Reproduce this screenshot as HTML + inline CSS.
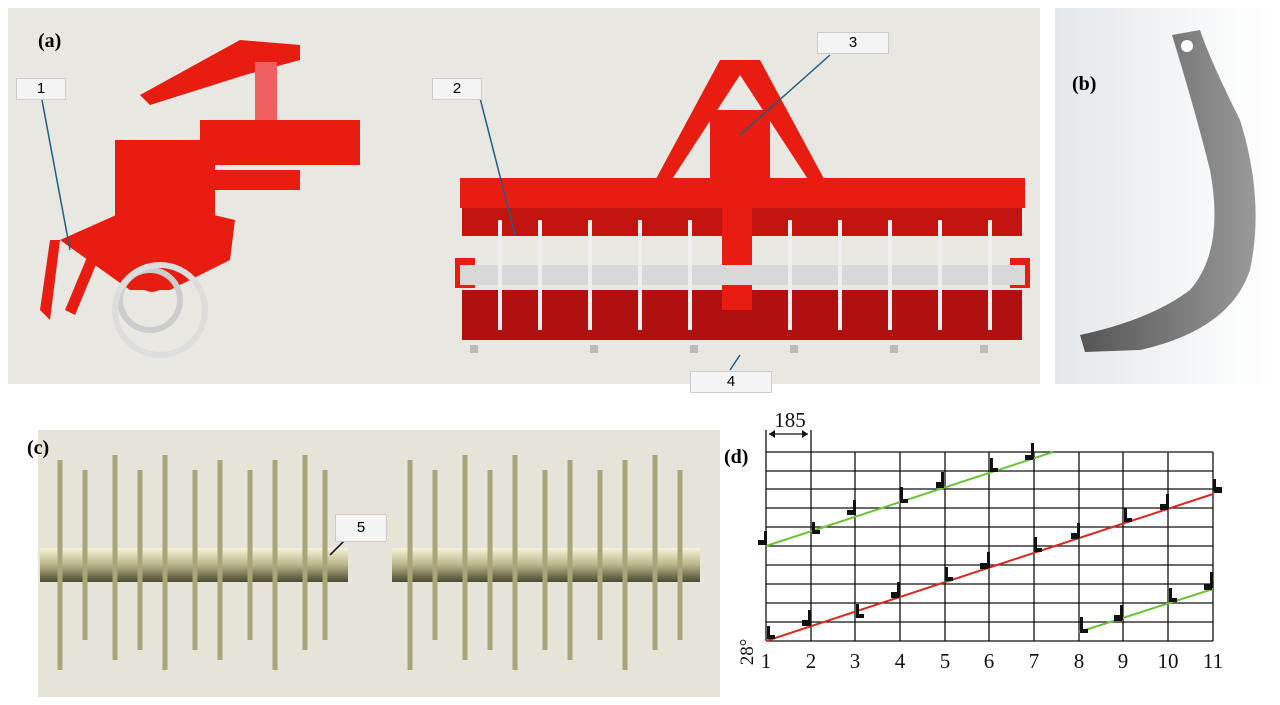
<!DOCTYPE html>
<html><head><style>
body{margin:0;width:1280px;height:705px;background:#fff;position:relative;overflow:hidden;font-family:"Liberation Serif",serif}
.lab{position:absolute;font-weight:bold;font-size:20px}
.box{position:absolute;background:#f4f4f4;border:1px solid #ccc;font:15px "Liberation Sans",sans-serif;text-align:center;line-height:20px;width:48px;height:20px}
</style></head><body>
<svg width="1280" height="705" style="position:absolute;left:0;top:0">
<rect x="8" y="8" width="1032" height="376" fill="#e9e7e1"/>
<defs><linearGradient id="bg" x1="0" x2="1"><stop offset="0" stop-color="#e4e7ea"/><stop offset="1" stop-color="#fff"/></linearGradient>
<linearGradient id="sh" x1="0" y1="0" x2="0" y2="1"><stop offset="0" stop-color="#f6f4d8"/><stop offset="0.5" stop-color="#b8b48a"/><stop offset="1" stop-color="#4a4a30"/></linearGradient>
<linearGradient id="bl" x1="0" x2="1"><stop offset="0" stop-color="#555"/><stop offset="1" stop-color="#999"/></linearGradient></defs>
<rect x="1055" y="8" width="220" height="376" fill="url(#bg)"/>
<path d="M1172,35 L1200,30 Q1210,60 1240,120 Q1265,200 1250,270 Q1230,330 1140,350 L1085,352 L1080,335 Q1150,320 1190,290 Q1225,250 1210,170 Q1195,110 1172,35Z" fill="url(#bl)"/>
<circle cx="1187" cy="46" r="6" fill="#fff"/>
<g fill="#e81c10">
<polygon points="60,240 150,200 235,220 230,260 170,290 130,290"/>
<rect x="115" y="140" width="100" height="110"/>
<polygon points="140,95 240,40 300,45 300,60 245,75 150,105"/>
<rect x="255" y="62" width="22" height="100" fill="#f06060"/>
<rect x="200" y="120" width="160" height="45"/>
<rect x="180" y="170" width="120" height="20"/>
<polygon points="40,310 50,240 60,240 50,320"/>
<polygon points="65,310 90,250 100,255 75,315"/>
<circle cx="152" cy="278" r="14"/>
</g>
<g fill="none" stroke="#ccc" stroke-width="6"><circle cx="150" cy="300" r="30"/><circle cx="160" cy="310" r="45" stroke="#ddd"/></g>
<g fill="#e81c10">
<rect x="460" y="178" width="565" height="30"/>
<rect x="462" y="208" width="560" height="28" fill="#c41410"/>
<rect x="462" y="290" width="560" height="50" fill="#b01010"/>
<rect x="710" y="110" width="60" height="80"/>
<polygon points="650,190 720,60 760,60 830,190 815,190 740,75 665,190"/>
<rect x="722" y="190" width="30" height="120"/>
<rect x="455" y="258" width="20" height="30"/><rect x="1010" y="258" width="20" height="30"/>
</g>
<rect x="460" y="265" width="565" height="20" fill="#d8d8d8"/>
<g fill="#bbb"><rect x="470" y="345" width="8" height="8"/><rect x="590" y="345" width="8" height="8"/><rect x="690" y="345" width="8" height="8"/><rect x="790" y="345" width="8" height="8"/><rect x="890" y="345" width="8" height="8"/><rect x="980" y="345" width="8" height="8"/></g>
<g stroke="#eee" stroke-width="4">
<line x1="500" y1="220" x2="500" y2="330"/><line x1="540" y1="220" x2="540" y2="330"/><line x1="590" y1="220" x2="590" y2="330"/><line x1="640" y1="220" x2="640" y2="330"/><line x1="690" y1="220" x2="690" y2="330"/><line x1="790" y1="220" x2="790" y2="330"/><line x1="840" y1="220" x2="840" y2="330"/><line x1="890" y1="220" x2="890" y2="330"/><line x1="940" y1="220" x2="940" y2="330"/><line x1="990" y1="220" x2="990" y2="330"/></g>
<g stroke="#1f5f80" stroke-width="1.5" fill="none">
<line x1="42" y1="100" x2="70" y2="250"/><line x1="480" y1="98" x2="515" y2="235"/><line x1="830" y1="55" x2="740" y2="135"/><line x1="740" y1="355" x2="730" y2="370"/></g>
<rect x="38" y="430" width="682" height="267" fill="#e6e4d8"/>
<rect x="40" y="548" width="308" height="34" fill="url(#sh)"/>
<rect x="392" y="548" width="308" height="34" fill="url(#sh)"/>
<g stroke="#a9a57a" stroke-width="5">
<line x1="60" y1="460" x2="60" y2="670"/><line x1="85" y1="470" x2="85" y2="640"/><line x1="115" y1="455" x2="115" y2="660"/><line x1="140" y1="470" x2="140" y2="650"/><line x1="165" y1="455" x2="165" y2="670"/><line x1="195" y1="470" x2="195" y2="650"/><line x1="220" y1="460" x2="220" y2="660"/><line x1="250" y1="470" x2="250" y2="640"/><line x1="275" y1="460" x2="275" y2="670"/><line x1="305" y1="455" x2="305" y2="650"/><line x1="325" y1="470" x2="325" y2="640"/>
<line x1="410" y1="460" x2="410" y2="670"/><line x1="435" y1="470" x2="435" y2="640"/><line x1="465" y1="455" x2="465" y2="660"/><line x1="490" y1="470" x2="490" y2="650"/><line x1="515" y1="455" x2="515" y2="670"/><line x1="545" y1="470" x2="545" y2="650"/><line x1="570" y1="460" x2="570" y2="660"/><line x1="600" y1="470" x2="600" y2="640"/><line x1="625" y1="460" x2="625" y2="670"/><line x1="655" y1="455" x2="655" y2="650"/><line x1="680" y1="470" x2="680" y2="640"/></g>
<line x1="355" y1="530" x2="330" y2="555" stroke="#000" stroke-width="1.5"/>
<g stroke="#111" stroke-width="1.3">
<line x1="766" y1="452" x2="1213" y2="452"/><line x1="766" y1="471" x2="1213" y2="471"/><line x1="766" y1="489" x2="1213" y2="489"/><line x1="766" y1="508" x2="1213" y2="508"/><line x1="766" y1="527" x2="1213" y2="527"/><line x1="766" y1="546" x2="1213" y2="546"/><line x1="766" y1="565" x2="1213" y2="565"/><line x1="766" y1="584" x2="1213" y2="584"/><line x1="766" y1="603" x2="1213" y2="603"/><line x1="766" y1="622" x2="1213" y2="622"/><line x1="766" y1="641" x2="1213" y2="641"/>
<line x1="766" y1="430" x2="766" y2="641"/><line x1="811" y1="430" x2="811" y2="641"/><line x1="855" y1="452" x2="855" y2="641"/><line x1="900" y1="452" x2="900" y2="641"/><line x1="945" y1="452" x2="945" y2="641"/><line x1="989" y1="452" x2="989" y2="641"/><line x1="1034" y1="452" x2="1034" y2="641"/><line x1="1079" y1="452" x2="1079" y2="641"/><line x1="1123" y1="452" x2="1123" y2="641"/><line x1="1168" y1="452" x2="1168" y2="641"/><line x1="1213" y1="452" x2="1213" y2="641"/>
<line x1="769" y1="434" x2="808" y2="434"/></g>
<path d="M769,434 l6,-4 v8z M808,434 l-6,-4 v8z" fill="#111"/>
<line x1="766" y1="641" x2="1213" y2="494" stroke="#d62a1e" stroke-width="2"/>
<line x1="766" y1="546" x2="1053" y2="452" stroke="#6cc23a" stroke-width="2"/>
<line x1="1079" y1="632" x2="1213" y2="589" stroke="#6cc23a" stroke-width="2"/>
<g fill="#111">
<rect x="758" y="540" width="8" height="5"/><rect x="764" y="531" width="3" height="14"/>
<rect x="812" y="522" width="3" height="12"/><rect x="812" y="530" width="8" height="4"/>
<rect x="847" y="510" width="8" height="5"/><rect x="853" y="500" width="3" height="15"/>
<rect x="900" y="487" width="3" height="15"/><rect x="900" y="499" width="8" height="4"/>
<rect x="936" y="482" width="8" height="6"/><rect x="941" y="472" width="3" height="15"/>
<rect x="990" y="458" width="3" height="14"/><rect x="990" y="468" width="8" height="4"/>
<rect x="1025" y="455" width="8" height="5"/><rect x="1031" y="443" width="3" height="16"/>
<rect x="1214" y="487" width="8" height="6"/><rect x="1213" y="479" width="3" height="12"/>
<rect x="1160" y="504" width="8" height="6"/><rect x="1166" y="494" width="3" height="15"/>
<rect x="1124" y="508" width="3" height="14"/><rect x="1124" y="518" width="8" height="4"/>
<rect x="1071" y="533" width="8" height="6"/><rect x="1077" y="523" width="3" height="15"/>
<rect x="1034" y="537" width="3" height="15"/><rect x="1034" y="548" width="8" height="4"/>
<rect x="980" y="563" width="8" height="6"/><rect x="987" y="552" width="3" height="16"/>
<rect x="945" y="567" width="3" height="14"/><rect x="945" y="577" width="8" height="4"/>
<rect x="891" y="592" width="8" height="6"/><rect x="897" y="582" width="3" height="15"/>
<rect x="856" y="604" width="3" height="14"/><rect x="856" y="614" width="8" height="4"/>
<rect x="802" y="620" width="8" height="6"/><rect x="808" y="610" width="3" height="16"/>
<rect x="767" y="626" width="3" height="12"/><rect x="767" y="635" width="8" height="4"/>
<rect x="1080" y="617" width="3" height="15"/><rect x="1080" y="629" width="8" height="4"/>
<rect x="1114" y="615" width="8" height="6"/><rect x="1120" y="605" width="3" height="15"/>
<rect x="1169" y="588" width="3" height="14"/><rect x="1169" y="598" width="8" height="4"/>
<rect x="1204" y="584" width="8" height="6"/><rect x="1210" y="572" width="3" height="16"/>
</g>
<g font-family="Liberation Serif" font-size="21" text-anchor="middle" fill="#111">
<text x="766" y="668">1</text><text x="811" y="668">2</text><text x="855" y="668">3</text><text x="900" y="668">4</text><text x="945" y="668">5</text><text x="989" y="668">6</text><text x="1034" y="668">7</text><text x="1079" y="668">8</text><text x="1123" y="668">9</text><text x="1168" y="668">10</text><text x="1213" y="668">11</text>
<text x="790" y="427" font-size="21">185</text>
<text x="0" y="0" font-size="19" transform="translate(753,652) rotate(-90)">28°</text>
</g>
</svg>
<div class="lab" style="left:38px;top:30px">(a)</div>
<div class="lab" style="left:1072px;top:73px">(b)</div>
<div class="lab" style="left:27px;top:437px">(c)</div>
<div class="lab" style="left:724px;top:446px">(d)</div>
<div class="box" style="left:16px;top:78px">1</div>
<div class="box" style="left:432px;top:78px">2</div>
<div class="box" style="left:817px;top:32px;width:70px">3</div>
<div class="box" style="left:690px;top:371px;width:80px">4</div>
<div class="box" style="left:335px;top:514px;width:50px;height:26px;line-height:26px">5</div>
</body></html>
